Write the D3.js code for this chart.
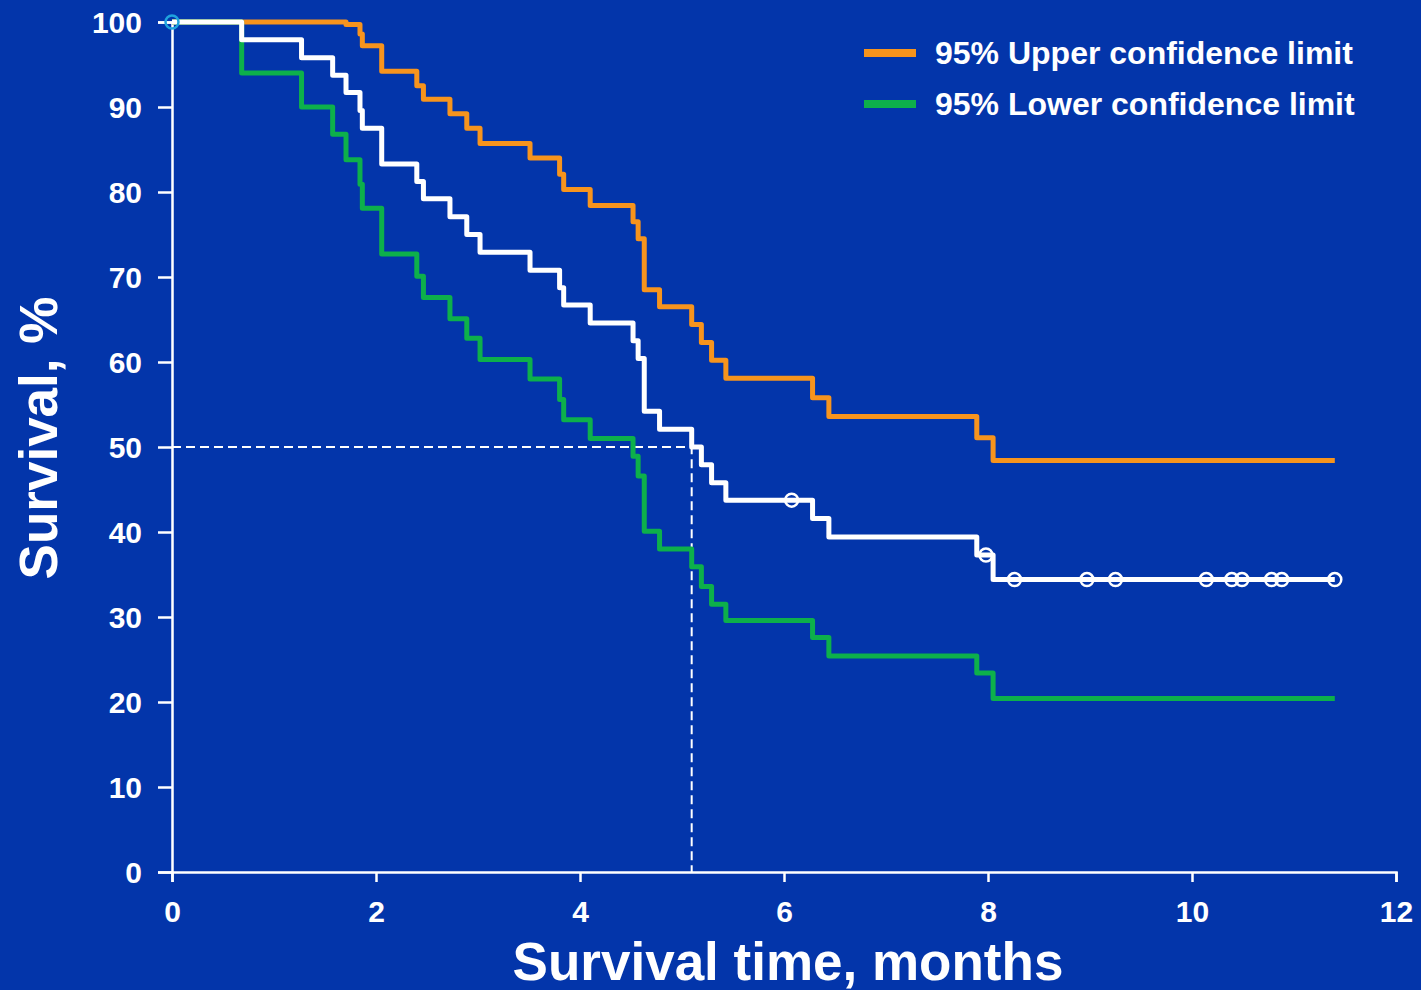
<!DOCTYPE html>
<html>
<head>
<meta charset="utf-8">
<script src="https://cdn.jsdelivr.net/npm/d3@7"></script>
<style>
  html, body { margin: 0; padding: 0; background: #0335AA; }
  svg { display: block; }
  text { font-family: "Liberation Sans", Arial, sans-serif; font-weight: bold; fill: #ffffff; }
</style>
</head>
<body>
<svg id="chart" width="1421" height="990"></svg>
<script>
// ---- data ----
const eventTimes = [0.683, 1.27, 1.575, 1.706, 1.843, 1.866, 2.056, 2.40, 2.465, 2.725, 2.89, 3.02,
  3.51, 3.80, 3.84, 4.10, 4.52, 4.57, 4.63, 4.78, 5.095, 5.19, 5.29, 5.43, 6.28, 6.44, 7.89, 8.05];
const survival = [97.9, 95.8, 93.75, 91.7, 89.6, 87.5, 83.3, 81.25, 79.2, 77.1, 75.0, 72.9,
  70.8, 68.75, 66.7, 64.6, 62.5, 60.4, 54.2, 52.1, 50.0, 47.9, 45.8, 43.75, 41.6, 39.4, 37.3, 34.4];
const upperCI = [100, 100, 100, 99.7, 98.6, 97.2, 94.2, 92.5, 90.9, 89.2, 87.5, 85.7,
  84.0, 82.1, 80.3, 78.4, 76.5, 74.5, 68.5, 66.5, 64.4, 62.3, 60.2, 58.1, 55.8, 53.6, 51.1, 48.4];
const lowerCI = [94.0, 90.0, 86.8, 83.8, 80.9, 78.1, 72.7, 70.1, 67.6, 65.1, 62.8, 60.3,
  58.0, 55.6, 53.2, 51.0, 48.9, 46.6, 40.1, 38.0, 35.9, 33.6, 31.5, 29.6, 27.6, 25.4, 23.4, 20.4];
const followUpEnd = 11.40;
const startCensorTimes = [0];
const censorTimes = [6.075, 7.98, 8.26, 8.97, 9.25, 10.14, 10.39, 10.49, 10.78, 10.88, 11.40];
const medianSurvival = 5.095;
const xTicks = [0, 2, 4, 6, 8, 10, 12];
const yTicks = [0, 10, 20, 30, 40, 50, 60, 70, 80, 90, 100];
const legendLabels = ["95% Upper confidence limit", "95% Lower confidence limit"];
const xTitle = "Survival time, months";
const yTitle = "Survival, %";

// ---- colours ----
const WHITE = "#ffffff", ORANGE = "#F7941D", GREEN = "#0DB04B", CYAN = "#1FA3DE";

const svg = d3.select("#chart");
const x = d3.scaleLinear().domain([0, 12]).range([172, 1396]);
const y = d3.scaleLinear().domain([0, 100]).range([872, 22]);

function series(vals) {
  const pts = [[0, 100]];
  eventTimes.forEach((t, i) => pts.push([t, vals[i]]));
  pts.push([followUpEnd, vals[vals.length - 1]]);
  return pts;
}
function survAt(t) {
  let s = 100;
  eventTimes.forEach((et, i) => { if (et <= t) s = survival[i]; });
  return s;
}
const line = d3.line().x(d => x(d[0])).y(d => y(d[1])).curve(d3.curveStepAfter);

// axes
const yAxis = d3.axisLeft(y).tickValues(yTicks).tickSize(14).tickPadding(16);
const gy = svg.append("g").attr("transform", "translate(172,0)").call(yAxis);
gy.select(".domain").attr("stroke", WHITE).attr("stroke-width", 2.5);
gy.selectAll(".tick line").attr("stroke", WHITE).attr("stroke-width", 2.5);
gy.selectAll(".tick text").attr("font-size", 30).attr("font-family", "Liberation Sans, Arial, sans-serif")
  .attr("font-weight", "bold").attr("fill", WHITE).attr("dy", "0.36em").attr("x", -30);

const xAxis = d3.axisBottom(x).tickValues(xTicks).tickSize(10).tickPadding(16);
const gx = svg.append("g").attr("transform", "translate(0,872)").call(xAxis);
gx.select(".domain").attr("stroke", WHITE).attr("stroke-width", 2.5);
gx.selectAll(".tick line").attr("stroke", WHITE).attr("stroke-width", 2.5);
gx.selectAll(".tick text").attr("font-size", 30).attr("font-family", "Liberation Sans, Arial, sans-serif")
  .attr("font-weight", "bold").attr("fill", WHITE).attr("dy", "0").attr("y", 50);

// median dashed lines
svg.append("path")
  .attr("d", `M${x(0)},${y(50)}H${x(medianSurvival)}V${y(0)}`)
  .attr("fill", "none").attr("stroke", WHITE).attr("stroke-width", 2).attr("stroke-dasharray", "9,5");

// curves
svg.append("path").datum(series(upperCI)).attr("d", line)
  .attr("fill", "none").attr("stroke", ORANGE).attr("stroke-width", 5).attr("stroke-linejoin", "round");
svg.append("path").datum(series(lowerCI)).attr("d", line)
  .attr("fill", "none").attr("stroke", GREEN).attr("stroke-width", 5).attr("stroke-linejoin", "round");
svg.append("path").datum(series(survival)).attr("d", line)
  .attr("fill", "none").attr("stroke", WHITE).attr("stroke-width", 5).attr("stroke-linejoin", "round");

// censor marks
svg.selectAll("circle.censor").data(censorTimes).enter().append("circle")
  .attr("class", "censor")
  .attr("cx", d => x(d)).attr("cy", d => y(survAt(d))).attr("r", 6.5)
  .attr("fill", "none").attr("stroke", WHITE).attr("stroke-width", 2.5);
svg.selectAll("circle.start").data(startCensorTimes).enter().append("circle")
  .attr("class", "start")
  .attr("cx", d => x(d)).attr("cy", d => y(survAt(d))).attr("r", 6.5)
  .attr("fill", "none").attr("stroke", CYAN).attr("stroke-width", 2.5);

// legend
const legColors = [ORANGE, GREEN];
const leg = svg.append("g");
legendLabels.forEach((lab, i) => {
  const cy = 53 + i * 51;
  leg.append("line").attr("x1", 864).attr("x2", 916).attr("y1", cy).attr("y2", cy)
    .attr("stroke", legColors[i]).attr("stroke-width", 8);
  leg.append("text").attr("x", 935).attr("y", cy + 11).attr("font-size", 32).text(lab);
});

// titles
svg.append("text").attr("x", 788).attr("y", 980).attr("text-anchor", "middle")
  .attr("font-size", 53).text(xTitle);
svg.append("text").attr("transform", "translate(57,438) rotate(-90)").attr("text-anchor", "middle")
  .attr("font-size", 53).text(yTitle);
</script>
</body>
</html>
